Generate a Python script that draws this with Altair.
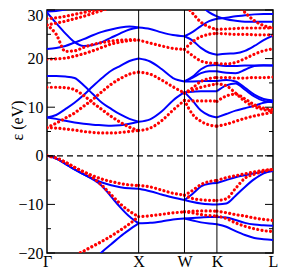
import altair as alt
import pandas as pd

# high-symmetry points (path length in 2pi/a) and their labels
K_POINTS = [0.0, 1.0, 1.5, 1.854, 2.466]
K_LABELS = ["Γ", "X", "W", "K", "L"]
TICK_MAJOR = [-20, -10, 0, 10, 20, 30]
TICK_MINOR = [-15, -5, 5, 15, 25]
FERMI = [0]

# k grids of each segment
K_GX = [0.0, 0.1, 0.2, 0.3, 0.4, 0.5, 0.6, 0.7, 0.8, 0.9, 1.0]
K_XW = [1.0, 1.125, 1.25, 1.375, 1.5]
K_WK = [1.5, 1.59, 1.68, 1.77, 1.854]
K_KL = [1.854, 1.956, 2.058, 2.16, 2.262, 2.364, 2.466]

N = None
# ---- blue (solid) bands, eV ----
GX_B1 = [0, -0.55, -1.65, -2.8, -3.8, -4.7, -5.5, -6.05, -6.45, -6.7, -6.8]
GX_B2 = [0, -0.55, -1.65, -2.8, -3.8, -4.85, -6.2, -8.4, -10.6, -12.5, -13.9]
GX_B3 = [N, N, N, N, -23.6, -21.8, -19.8, -18.2, -16.6, -15.2, -13.9]
GX_B4 = [7.9, 7.6, 7.2, 6.85, 6.6, 6.4, 6.3, 6.2, 6.3, 6.6, 7.0]
GX_B5 = [7.9, 8.4, 9.6, 10.9, 12.5, 14.3, 16.0, 17.5, 18.5, 19.5, 20.0]
GX_B6 = [16.4, 16.4, 16.3, 16.0, 14.5, 12.7, 10.9, 9.65, 8.5, 7.6, 7.0]
GX_B7 = [22.0, 22.2, 22.6, 23.3, 24.0, 24.8, 25.5, 26.0, 26.4, 26.6, 26.4]
GX_B8 = [29.5, 27.3, 25.2, 23.4, 22.6, 22.8, 23.4, 24.3, 25.2, 26.0, 26.4]
GX_B9 = [29.7, 29.8, 30.1, 30.6, N, N, N, N, N, N, N]

XW_B1 = [26.4, 26.1, 25.4, 24.85, 24.6]
XW_B2 = [20.0, 19.4, 17.85, 16.0, 15.3]
XW_B3 = [7.0, 7.5, 9.1, 11.4, 13.1]
XW_B4 = [-6.8, -7.3, -7.95, -8.6, -9.1]
XW_B5 = [-13.9, -13.8, -13.5, -13.1, -12.9]

WK_B1 = [24.6, 25.5, 26.7, 27.7, 28.2]
WK_B2 = [24.6, 23.7, 22.2, 21.2, 20.8]
WK_B3 = [15.3, 16.3, 17.8, 18.6, 18.7]
WK_B4 = [15.3, 16.1, 17.0, 17.4, 17.4]
WK_B5 = [15.3, 15.3, 15.35, 15.4, 15.4]
WK_B6 = [13.1, 13.2, 13.3, 13.3, 13.3]
WK_B7 = [13.1, 11.3, 9.3, 8.3, 7.9]
WK_B8 = [N, N, 31.0, 29.5, 28.7]
WK_B9 = [-9.1, -7.8, -6.3, -5.75, -5.6]
WK_B10 = [-9.1, -9.5, -9.8, -9.95, -10.0]
WK_B11 = [-12.9, -12.8, -12.7, -12.6, -12.6]
WK_B12 = [-12.9, -13.3, -13.7, -13.95, -14.1]

KL_B1 = [28.7, 28.1, 27.8, 27.6, 27.6, 27.6, 27.6]
KL_B2 = [28.2, 28.4, 28.7, 28.9, 29.1, 29.2, 29.2]
KL_B3 = [20.8, 21.0, 21.1, 21.6, 22.6, 23.8, 24.7]
KL_B4 = [18.7, 18.5, 18.5, 18.6, 18.6, 18.6, 18.6]
KL_B5 = [17.4, 17.1, 17.0, 17.7, 18.5, 18.65, 18.6]
KL_B6 = [15.4, 15.6, 15.3, 14.0, 12.6, 11.7, 11.4]
KL_B7 = [13.3, 14.5, 14.9, 13.6, 12.2, 11.3, 11.0]
KL_B8 = [7.9, 8.6, 9.3, 9.8, 10.3, 10.9, 11.2]
KL_B9 = [-5.6, -5.0, -4.4, -4.0, -3.6, -3.3, -3.1]
KL_B10 = [-10.0, -9.8, -8.2, -6.4, -4.8, -3.6, -3.1]
KL_B11 = [-12.6, -12.7, -13.2, -13.8, -14.15, -14.3, -14.4]
KL_B12 = [-14.1, -14.6, -15.5, -16.3, -16.9, -17.15, -17.3]

# ---- red (dotted) bands, eV ----
GX_R1 = [0, -0.45, -1.35, -2.35, -3.3, -4.1, -4.8, -5.3, -5.7, -6.0, -6.1]
GX_R2 = [0, -0.45, -1.35, -2.35, -3.35, -4.5, -6.1, -8.0, -9.9, -11.4, -12.5]
GX_R3 = [N, N, -21.7, -20.6, -19.6, -18.6, -17.6, -16.5, -15.3, -14.0, -12.5]
GX_R4 = [5.8, 5.7, 5.5, 5.3, 5.0, 4.8, 4.7, 4.7, 4.8, 5.0, 5.2]
GX_R5 = [5.8, 6.7, 7.75, 8.8, 10.2, 11.6, 13.2, 14.7, 15.9, 16.8, 17.2]
GX_R6 = [14.1, 14.1, 14.0, 13.6, 12.4, 10.9, 9.5, 8.1, 6.9, 5.9, 5.2]
GX_R7 = [19.9, 19.95, 20.1, 20.5, 21.0, 21.6, 22.3, 23.0, 23.4, 23.7, 23.8]
GX_R8 = [26.9, 25.0, 21.5, 21.6, 22.3, 22.9, 23.3, 23.6, 23.8, 23.9, 23.9]
GX_R9 = [28.2, 28.4, 28.7, 29.1, 29.5, 29.9, 30.3, N, N, N, N]
GX_R10 = [26.9, 27.3, 27.7, 28.2, 28.7, 29.3, 29.9, 30.5, N, N, N]

XW_R1 = [23.8, 23.2, 22.6, 22.1, 21.9]
XW_R2 = [17.2, 16.8, 15.6, 14.2, 12.9]
XW_R3 = [5.2, 5.7, 7.2, 9.4, 11.4]
XW_R4 = [-6.1, -6.4, -7.05, -7.7, -8.1]
XW_R5 = [-12.5, -12.35, -12.05, -11.75, -11.55]

WK_R1 = [21.9, 23.5, 24.5, 25.0, 25.2]
WK_R2 = [21.9, 20.6, 19.5, 19.1, 19.0]
WK_R3 = [31.3, 29.3, 27.5, 26.5, 26.0]
WK_R4 = [12.9, 14.0, 15.3, 15.9, 16.1]
WK_R5 = [12.9, 13.5, 14.1, 14.5, 14.8]
WK_R6 = [11.4, 11.3, 11.3, 11.3, 11.2]
WK_R7 = [11.4, 8.5, 7.1, 6.35, 6.1]
WK_R8 = [-8.1, -7.1, -5.9, -5.3, -5.1]
WK_R9 = [-8.1, -8.8, -9.05, -9.15, -9.2]
WK_R10 = [-11.55, -11.4, -11.35, -11.35, -11.4]
WK_R11 = [-11.55, -11.75, -12.1, -12.3, -12.4]

KL_R1 = [26.0, 26.1, 26.2, 26.3, 26.3, 26.3, 26.3]
KL_R2 = [25.2, 25.1, 25.0, 25.0, 24.9, 24.9, 24.8]
KL_R3 = [N, N, 31.5, 29.5, 27.8, 26.8, 26.3]
KL_R4 = [19.0, 18.9, 19.2, 20.0, 20.9, 21.6, 22.0]
KL_R5 = [16.1, 16.1, 16.0, 16.0, 16.1, 16.1, 16.2]
KL_R6 = [14.8, 14.4, 12.9, 11.2, 10.1, 9.5, 9.2]
KL_R7 = [11.2, 12.3, 12.7, 11.7, 10.5, 9.8, 9.5]
KL_R8 = [6.1, 6.5, 7.1, 7.7, 8.2, 8.6, 9.0]
KL_R9 = [-5.1, -4.5, -4.1, -3.7, -3.3, -3.0, -2.8]
KL_R10 = [-9.2, -8.85, -6.7, -4.6, -3.8, -3.2, -2.8]
KL_R11 = [-11.4, -11.7, -12.1, -12.4, -12.8, -13.1, -13.3]
KL_R12 = [-12.4, -12.9, -13.8, -14.5, -15.0, -15.4, -15.6]

BLUE_SETS = [
    (K_GX, [GX_B1, GX_B2, GX_B3, GX_B4, GX_B5, GX_B6, GX_B7, GX_B8, GX_B9]),
    (K_XW, [XW_B1, XW_B2, XW_B3, XW_B4, XW_B5]),
    (K_WK, [WK_B1, WK_B2, WK_B3, WK_B4, WK_B5, WK_B6, WK_B7, WK_B8,
            WK_B9, WK_B10, WK_B11, WK_B12]),
    (K_KL, [KL_B1, KL_B2, KL_B3, KL_B4, KL_B5, KL_B6, KL_B7, KL_B8,
            KL_B9, KL_B10, KL_B11, KL_B12]),
]
RED_SETS = [
    (K_GX, [GX_R1, GX_R2, GX_R3, GX_R4, GX_R5, GX_R6, GX_R7, GX_R8, GX_R9, GX_R10]),
    (K_XW, [XW_R1, XW_R2, XW_R3, XW_R4, XW_R5]),
    (K_WK, [WK_R1, WK_R2, WK_R3, WK_R4, WK_R5, WK_R6, WK_R7, WK_R8,
            WK_R9, WK_R10, WK_R11]),
    (K_KL, [KL_R1, KL_R2, KL_R3, KL_R4, KL_R5, KL_R6, KL_R7, KL_R8,
            KL_R9, KL_R10, KL_R11, KL_R12]),
]


def table(sets, tag):
    rows = []
    for si, (grid, bands) in enumerate(sets):
        for bi, band in enumerate(bands):
            for k, e in zip(grid, band):
                if e is not None:
                    rows.append({"k": k, "E": e, "band": f"{tag}{si}_{bi}"})
    return pd.DataFrame(rows)


blue_df = table(BLUE_SETS, "b")
red_df = table(RED_SETS, "r")

W, H = 226, 243
FONT = "Liberation Serif"
xscale = alt.Scale(domain=[K_POINTS[0], K_POINTS[-1]], nice=False, zero=False)
yscale = alt.Scale(domain=[TICK_MAJOR[0], TICK_MAJOR[-1]], nice=False, zero=False)

label_expr = (
    "[" + ",".join(f"'{s}'" for s in K_LABELS) + "]"
    + "[indexof([" + ",".join(repr(v) for v in K_POINTS) + "], datum.value)]"
)

x_axis = alt.Axis(values=K_POINTS, labelExpr=label_expr, ticks=False, tickSize=0,
                  domain=False, grid=False, labelFont=FONT, labelFontSize=16,
                  labelColor="black", labelBaseline="alphabetic", labelPadding=13,
                  labelFlush=False, labelOverlap=False, labelBound=False, title=None)
y_axis = alt.Axis(values=TICK_MAJOR, ticks=False, tickSize=0, domain=False, grid=False,
                  labelFont=FONT, labelFontSize=16, labelColor="black", labelPadding=4,
                  labelOffset={"condition": {"test": f"datum.value == {TICK_MAJOR[-1]}",
                                             "value": 5}, "value": 0},
                  title="ε (eV)", titleFont=FONT, titleFontSize=16,
                  titleFontWeight="normal", titleColor="black", titleY=110,
                  titleX=-22, titleAngle=270, titleBaseline="bottom")

X = alt.X("k:Q", scale=xscale, axis=x_axis)
Y = alt.Y("E:Q", scale=yscale, axis=y_axis)

blue = alt.Chart(blue_df).mark_line(color="#0000ff", strokeWidth=2, interpolate="monotone",
                                     clip=True).encode(x=X, y=Y, detail="band:N")

red = alt.Chart(red_df).mark_line(color="#ff0000", strokeWidth=3.2, interpolate="monotone",
                                   strokeDash=[0.01, 4.3], strokeCap="round",
                                   clip=True).encode(x=X, y=Y, detail="band:N")

vlines = alt.Chart(pd.DataFrame({"k": K_POINTS[1:4]})).mark_rule(
    color="black", strokeWidth=1).encode(x=X)

zero = alt.Chart(pd.DataFrame({"E": FERMI})).mark_rule(
    color="black", strokeWidth=1.2, strokeDash=[6, 4]).encode(y=Y)

major_df = pd.DataFrame({"E": TICK_MAJOR})
minor_df = pd.DataFrame({"E": TICK_MINOR})


def ticks(df, x0, x1):
    return alt.Chart(df).mark_rule(color="black", strokeWidth=1).encode(
        y=Y, x=alt.value(x0), x2=alt.value(x1))


chart = alt.layer(
    blue, red, vlines, zero,
    ticks(major_df, 0, 8), ticks(minor_df, 0, 4),
    ticks(major_df, W, W - 8), ticks(minor_df, W, W - 4),
).properties(
    width=W, height=H,
    padding={"left": 39, "top": 2, "right": 5, "bottom": 17},
    autosize=alt.AutoSizeParams(type="none"),
    background="white",
).configure_view(stroke="black", strokeWidth=1.5)

chart.save("out.html", embed_options={"renderer": "svg", "actions": False})
